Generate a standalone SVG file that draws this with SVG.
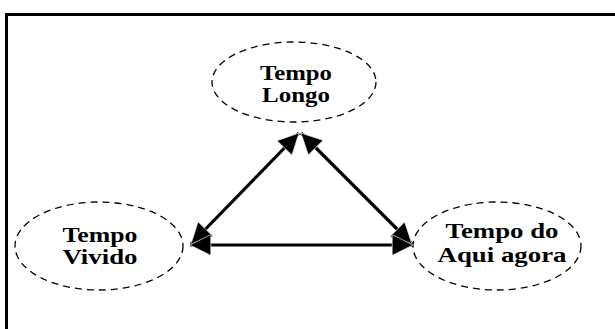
<svg xmlns="http://www.w3.org/2000/svg" width="615" height="329" viewBox="0 0 615 329">
<style>
.node ellipse{fill:none;stroke:#000;stroke-width:1.3;stroke-dasharray:7 5}
.node text{font-family:"Liberation Serif","Times New Roman",serif;font-weight:bold;font-size:20px;fill:#000;text-anchor:middle}
.conn line{stroke:#000;stroke-width:3.2;marker-start:url(#ah);marker-end:url(#ah)}
</style>
<defs>
<marker id="ah" viewBox="0 0 10 10" refX="10" refY="5" markerWidth="8" markerHeight="6.5" markerUnits="strokeWidth" orient="auto-start-reverse">
<path d="M0,0 L10,5 L0,10 Z" fill="#000" stroke="#fff" stroke-width="0.3"/>
</marker>
</defs>
<rect width="615" height="329" fill="#fff"/>
<path d="M6.5,329 V14.5 H615" fill="none" stroke="#000" stroke-width="3"/>
<g id="tempo-longo" class="node">
<ellipse cx="294" cy="82" rx="82" ry="40"/>
<text x="296" y="80" textLength="72" lengthAdjust="spacingAndGlyphs">Tempo</text>
<text x="296" y="102" textLength="68" lengthAdjust="spacingAndGlyphs">Longo</text>
</g>
<g id="tempo-vivido" class="node">
<ellipse cx="99" cy="246" rx="84" ry="44"/>
<text x="100" y="242" textLength="75" lengthAdjust="spacingAndGlyphs">Tempo</text>
<text x="100" y="264" textLength="75" lengthAdjust="spacingAndGlyphs">Vivido</text>
</g>
<g id="tempo-aqui-agora" class="node">
<ellipse cx="497" cy="246" rx="84" ry="44"/>
<text x="502" y="238" textLength="113" lengthAdjust="spacingAndGlyphs">Tempo do</text>
<text x="502" y="262" textLength="129" lengthAdjust="spacingAndGlyphs">Aqui agora</text>
</g>
<g id="connectors" class="conn">
<line x1="299" y1="133" x2="191" y2="244"/>
<line x1="301" y1="133" x2="412" y2="244"/>
<line x1="190" y1="245" x2="413" y2="245"/>
</g>
</svg>
